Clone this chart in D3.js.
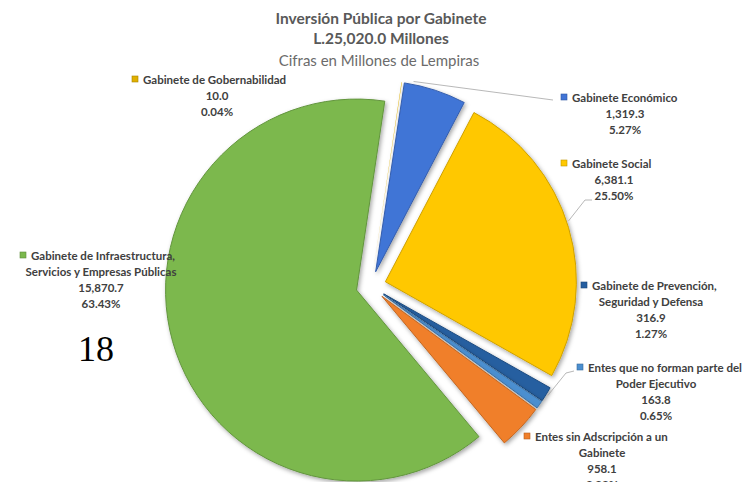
<!DOCTYPE html>
<html>
<head>
<meta charset="utf-8">
<script src="https://cdn.jsdelivr.net/npm/d3@7"></script>
<style>
  body { margin: 0; background: #fff; }
  svg { display: block; }
</style>
</head>
<body>
<div id="chart"></div>
<script>
// Data (millones de lempiras)
const categories = [
  "Gabinete de Gobernabilidad",
  "Gabinete Económico",
  "Gabinete Social",
  "Gabinete de Prevención, Seguridad y Defensa",
  "Entes que no forman parte del Poder Ejecutivo",
  "Entes sin Adscripción a un Gabinete",
  "Gabinete de Infraestructura, Servicios y Empresas Públicas"
];
const values = [10.0, 1319.3, 6381.1, 316.9, 163.8, 958.1, 15870.7];
const percentLabels = ["0.04%", "5.27%", "25.50%", "1.27%", "0.65%", "3.83%", "63.43%"];
const valueLabels = ["10.0", "1,319.3", "6,381.1", "316.9", "163.8", "958.1", "15,870.7"];
// wrapped name lines as in the original labels
const nameLines = [
  ["Gabinete de Gobernabilidad"],
  ["Gabinete Económico"],
  ["Gabinete Social"],
  ["Gabinete de Prevención,", "Seguridad y Defensa"],
  ["Entes que no forman parte del", "Poder Ejecutivo"],
  ["Entes sin Adscripción a un", "Gabinete"],
  ["Gabinete de Infraestructura,", "Servicios y Empresas Públicas"]
];
const colors = ["#e0b000", "#4174d6", "#ffc800", "#255ea0", "#4b8fd0", "#f07f2a", "#7bb84d"];

const titleLines = ["Inversión Pública por Gabinete", "L.25,020.0 Millones"];
const subtitle = "Cifras en Millones de Lempiras";

const width = 752, height = 482;
const cx = 371, cy = 286, radius = 191, explode = 15;

// label layout: x of first line (left, after the key), center x for other lines, first baseline
const labelPos = [
  { x1: 143, cx: 217, y: 84 },
  { x1: 572, cx: 625, y: 102 },
  { x1: 572, cx: 614, y: 168 },
  { x1: 592, cx: 651, y: 290 },
  { x1: 588, cx: 656, y: 372 },
  { x1: 535, cx: 602, y: 441 },
  { x1: 31, cx: 101, y: 260 }
];

const svg = d3.select("#chart").append("svg")
  .attr("width", width)
  .attr("height", height);

const defs = svg.append("defs");
const shadow = defs.append("filter").attr("id", "shadow")
  .attr("x", "-20%").attr("y", "-20%").attr("width", "140%").attr("height", "140%");
shadow.append("feDropShadow")
  .attr("dx", 1.5).attr("dy", 2).attr("stdDeviation", 2)
  .attr("flood-color", "#000").attr("flood-opacity", 0.35);

// Titles
const title = svg.append("g").attr("font-family", "Lato, 'Open Sans', sans-serif")
  .attr("text-anchor", "middle");
title.selectAll("text.t")
  .data(titleLines)
  .join("text")
  .attr("class", "t")
  .attr("x", 381)
  .attr("y", (d, i) => 24 + i * 20)
  .attr("font-size", 15.5)
  .attr("font-weight", "bold")
  .attr("fill", "#595959")
  .text(d => d);
title.append("text")
  .attr("x", 379)
  .attr("y", 66)
  .attr("font-size", 15)
  .attr("fill", "#6b6b6b")
  .text(subtitle);

// Pie
const startDeg = 8.5;
const pie = d3.pie()
  .sort(null)
  .value(d => d)
  .startAngle(startDeg * Math.PI / 180)
  .endAngle(startDeg * Math.PI / 180 + 2 * Math.PI);

const arc = d3.arc().innerRadius(0).outerRadius(radius);
const arcs = pie(values);

const offset = d => {
  const m = (d.startAngle + d.endAngle) / 2;
  return [cx + explode * Math.sin(m), cy - explode * Math.cos(m)];
};

svg.append("g")
  .selectAll("path")
  .data(arcs)
  .join("path")
  .attr("transform", d => `translate(${offset(d)})`)
  .attr("d", arc)
  .attr("fill", (d, i) => colors[i])
  .attr("stroke", (d, i) => d3.color(colors[i]).darker(0.6))
  .attr("stroke-width", d => (d.endAngle - d.startAngle) < 0.01 ? 0 : 1)
  .attr("stroke-linejoin", "round")
  .attr("filter", "url(#shadow)");

// Leader lines
const leader = svg.append("g").attr("fill", "none").attr("stroke", "#a6a6a6").attr("stroke-width", 0.8);
{
  const d = arcs[1];
  const [ox, oy] = offset(d);
  const m = (d.startAngle + d.endAngle) / 2 - 0.12;
  leader.append("path").attr("d", d3.line()([
    [ox + (radius + 3) * Math.sin(m), oy - (radius + 3) * Math.cos(m)],
    [553, 100]
  ]));
}
{
  const d = arcs[2];
  const [ox, oy] = offset(d);
  const m = 1.25;
  const p = [ox + (radius + 2) * Math.sin(m), oy - (radius + 2) * Math.cos(m)];
  leader.append("path").attr("d", d3.line()([p, [585, 200], [592, 200]]));
}
{
  const d = arcs[3];
  const [ox, oy] = offset(d);
  const m = (d.startAngle + d.endAngle) / 2;
  const p = [ox + (radius + 2) * Math.sin(m), oy - (radius + 2) * Math.cos(m)];
  leader.append("path").attr("d", d3.line()([p, [566, 373], [574, 371]]));
}

// Labels
const labels = svg.append("g")
  .attr("font-family", "Lato, 'Open Sans', sans-serif")
  .attr("font-size", 11.5)
  .attr("font-weight", "bold")
  .attr("fill", "#404040");

categories.forEach((c, i) => {
  const p = labelPos[i];
  const lines = nameLines[i].concat([valueLabels[i], percentLabels[i]]);
  const g = labels.append("g");
  g.append("rect")
    .attr("x", p.x1 - 11)
    .attr("y", p.y - 8)
    .attr("width", 6)
    .attr("height", 6)
    .attr("fill", colors[i])
    .attr("stroke", d3.color(colors[i]).darker(0.8))
    .attr("stroke-width", 0.6);
  g.selectAll("text")
    .data(lines)
    .join("text")
    .attr("x", (d, j) => j === 0 ? p.x1 : p.cx)
    .attr("y", (d, j) => p.y + j * 16)
    .attr("text-anchor", (d, j) => j === 0 ? "start" : "middle")
    .text(d => d);
});

// page number
svg.append("text")
  .attr("x", 78)
  .attr("y", 361)
  .attr("font-family", "'Liberation Serif', 'DejaVu Serif', serif")
  .attr("font-size", 36)
  .attr("fill", "#000")
  .text("18");
</script>
</body>
</html>
